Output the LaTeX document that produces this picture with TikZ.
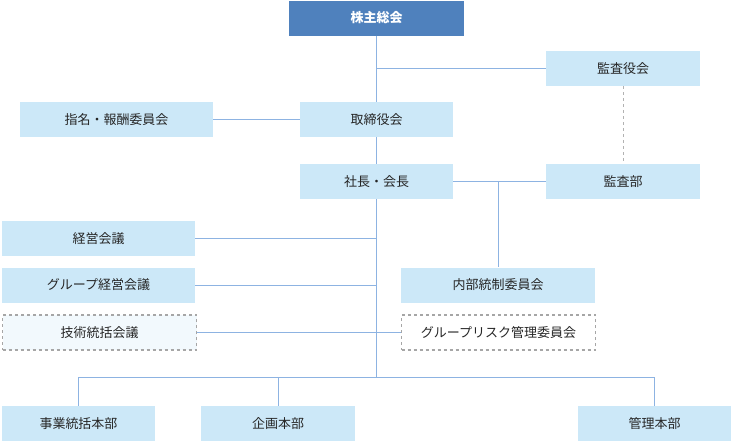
\documentclass[tikz,border=0pt]{standalone}
\usepackage{fontspec}
\newfontfamily\jp{Noto Sans CJK JP}
\definecolor{boxfill}{HTML}{CCE8F8}
\definecolor{topfill}{HTML}{4F81BD}
\definecolor{linec}{HTML}{8DB3E2}
\definecolor{txt}{HTML}{262626}
\tikzset{
  orgbox/.style={fill=boxfill, draw=none, text=txt, font=\jp\fontsize{13}{15}\selectfont, minimum height=35pt, inner sep=0pt},
  dashbox/.style={orgbox, fill=#1, draw=gray!70, dashed, line width=1.2pt},
  conn/.style={draw=linec, line width=1pt}
}
\begin{document}
\begin{tikzpicture}[x=1pt,y=-1pt]
\useasboundingbox (0,0) rectangle (732,445);

\node [orgbox, fill=topfill, text=white, font=\jp\bfseries\fontsize{13}{15}\selectfont, minimum width=175pt] (agm) at (376.5,18) {株主総会};
\node [orgbox, minimum width=154pt] (kansayaku) at (623,68.5) {監査役会};
\node [orgbox, minimum width=193pt] (shimei) at (116.5,119.5) {指名・報酬委員会};
\node [orgbox, minimum width=153pt] (board) at (376.5,119.5) {取締役会};
\node [orgbox, minimum width=153pt] (ceo) at (376.5,181.5) {社長・会長};
\node [orgbox, minimum width=154pt] (kansabu) at (623,181.5) {監査部};
\node [orgbox, minimum width=193pt] (keiei) at (98.5,238.5) {経営会議};
\node [orgbox, minimum width=193pt] (gkeiei) at (98.5,285) {グループ経営会議};
\node [orgbox, minimum width=194pt] (naibu) at (498,285) {内部統制委員会};
\node [dashbox=boxfill!25, minimum width=194pt] (gijutsu) at (99.5,332.5) {技術統括会議};
\node [dashbox=white, minimum width=194pt] (risk) at (498.5,332.5) {グループリスク管理委員会};
\node [orgbox, minimum width=153pt] (jigyo) at (78.5,423.5) {事業統括本部};
\node [orgbox, minimum width=154pt] (kikaku) at (278,423.5) {企画本部};
\node [orgbox, minimum width=153pt] (kanri) at (654.5,423.5) {管理本部};

\coordinate (bus) at (376.5,377);
\coordinate (naibuj) at (498,181.5);

% trunk
\draw[conn] (agm) -- (board);
\draw[conn] (board) -- (ceo);
\draw[conn] (ceo) -- (bus);
\draw[conn] (kansayaku.west) -- (kansayaku.west -| agm);
\draw[conn] (shimei) -- (board);
\draw[conn] (ceo) -- (kansabu);
\draw[conn] (naibuj) -- (naibu);
\draw[draw=gray!60, dashed, line width=1pt] (kansayaku) -- (kansabu);
\draw[conn] (keiei.east) -- (keiei.east -| bus);
\draw[conn] (gkeiei.east) -- (gkeiei.east -| bus);
\draw[conn] (gijutsu.east) -- (risk.west);
% bottom
\draw[conn] (jigyo.north |- bus) -- (kanri.north |- bus);
\draw[conn] (jigyo.north |- bus) -- (jigyo.north);
\draw[conn] (kikaku.north |- bus) -- (kikaku.north);
\draw[conn] (kanri.north |- bus) -- (kanri.north);
\end{tikzpicture}
\end{document}
